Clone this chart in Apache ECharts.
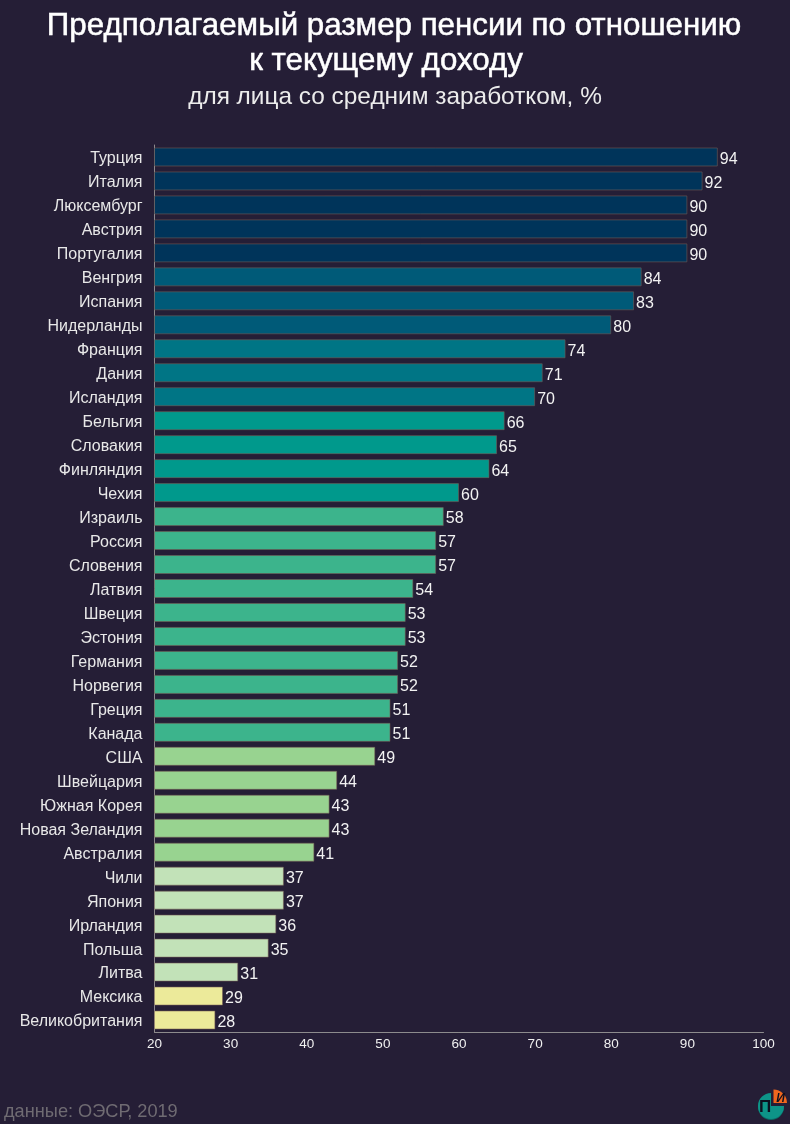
<!DOCTYPE html>
<html><head><meta charset="utf-8">
<style>html,body{margin:0;padding:0;background:#251e36}#c{width:790px;height:1124px}</style>
<script src="https://cdn.jsdelivr.net/npm/echarts@6/dist/echarts.min.js"></script>
</head><body><div id="c"></div>
<script>
const categories = ["Турция","Италия","Люксембург","Австрия","Португалия","Венгрия","Испания","Нидерланды","Франция","Дания","Исландия","Бельгия","Словакия","Финляндия","Чехия","Израиль","Россия","Словения","Латвия","Швеция","Эстония","Германия","Норвегия","Греция","Канада","США","Швейцария","Южная Корея","Новая Зеландия","Австралия","Чили","Япония","Ирландия","Польша","Литва","Мексика","Великобритания"];
const values = [94,92,90,90,90,84,83,80,74,71,70,66,65,64,60,58,57,57,54,53,53,52,52,51,51,49,44,43,43,41,37,37,36,35,31,29,28];
const binFloors = [90,80,70,60,50,40,30,0];
const binColors = ["#00345a","#005a78","#007585","#00998c","#3cb48c","#98d390","#c2e2b8","#ecea9a"];
const FONT = '"Liberation Sans", Arial, sans-serif';
const colorOf = v => binColors[binFloors.findIndex(f => v >= f)];
const chart = echarts.init(document.getElementById('c'), null, {renderer:'canvas'});
const t = (text, cx, y, size, color, bw) => ({text, left: cx, top: y, textAlign:'center', padding:0,
  textStyle:{color, fontSize:size, fontWeight:'normal', fontFamily:FONT, textBorderColor:color, textBorderWidth:bw}});
chart.setOption({
  backgroundColor:'#251e36',
  animation:false,
  title:[
    t('Предполагаемый размер пенсии по отношению',394,10.5,31.3,'#ffffff',0.5),
    t('к текущему доходу',386,45.5,31.3,'#ffffff',0.5),
    t('для лица со средним заработком, %',395,85,24.4,'#ececec',0),
    {text:'данные: ОЭСР, 2019',left:4,top:1103,padding:0,textStyle:{color:'#6f6b72',fontSize:18.2,fontWeight:'normal',fontFamily:FONT}}
  ],
  grid:{left:154.5,right:26.5,top:145,bottom:92,containLabel:false},
  xAxis:{type:'value',min:20,max:100,interval:10,
    axisLine:{show:true,lineStyle:{color:'#8d8b8d',width:1}},
    axisTick:{show:false},splitLine:{show:false},
    axisLabel:{color:'#f0f0f0',fontSize:13.5,margin:5,fontFamily:FONT}},
  yAxis:{type:'category',data:categories,inverse:true,
    axisLine:{show:true,lineStyle:{color:'#8d8b8d',width:1}},
    axisTick:{show:false},
    axisLabel:{color:'#e8e8e8',fontSize:16,margin:12,verticalAlign:'top',lineHeight:4,fontFamily:FONT}},
  series:[{type:'bar',data:values,barWidth:19,
    itemStyle:{color:p=>colorOf(p.value),borderColor:'rgba(120,95,85,0.55)',borderWidth:1},
    label:{show:true,position:'right',distance:2,offset:[0,2.5],color:'#f2f2f2',fontSize:16,fontFamily:FONT}}],
  graphic:[
    {type:'circle',shape:{cx:771,cy:1107,r:13},style:{fill:'#0a6a66'}},
    {type:'sector',shape:{cx:771,cy:1106,r:13,startAngle:0,endAngle:Math.PI*1.5,clockwise:true},style:{fill:'#0d9488'}},
    {type:'rect',shape:{x:771,y:1090,width:17,height:16},style:{fill:'#251e36'}},
    {type:'sector',shape:{cx:773.5,cy:1103,r:13.5,startAngle:-Math.PI*0.5,endAngle:0,clockwise:true},style:{fill:'#f0671e'}},
    {type:'text',x:765,y:1107.5,style:{text:'П',font:'bold 17px '+FONT,fill:'#0c1020',align:'center',verticalAlign:'middle'}},
    {type:'text',x:780.5,y:1098.5,style:{text:'И',font:'italic bold 12px '+FONT,fill:'#0c1020',align:'center',verticalAlign:'middle'}}
  ]
});
</script></body></html>
